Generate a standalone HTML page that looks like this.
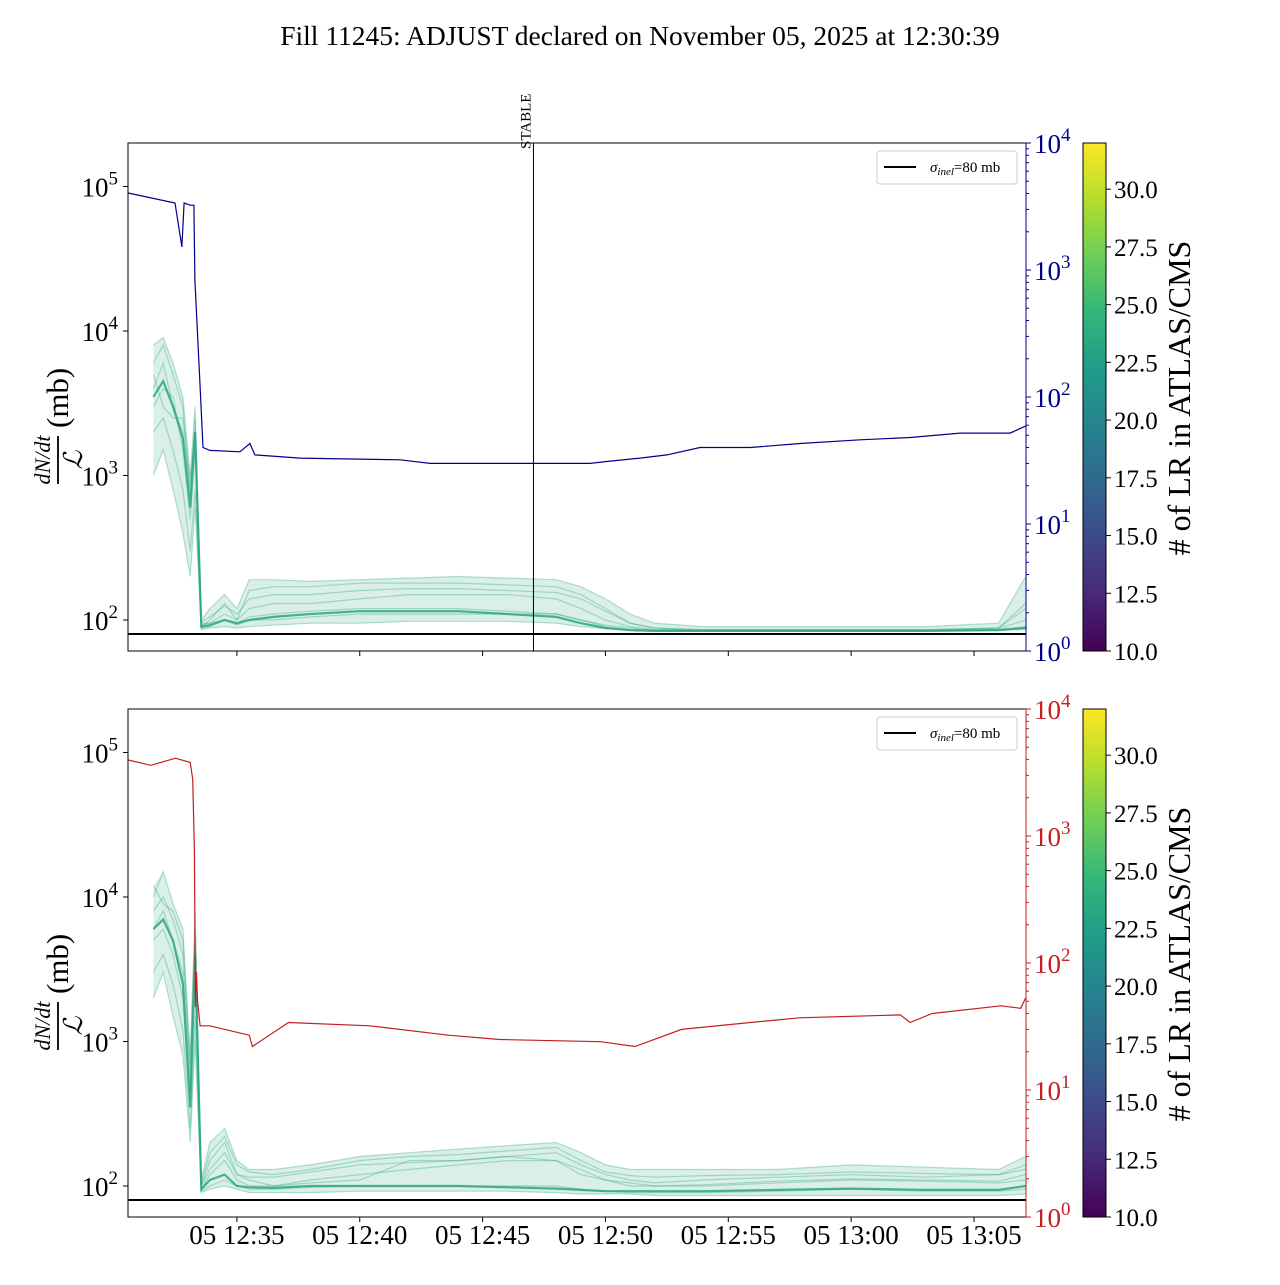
<!DOCTYPE html>
<html><head><meta charset="utf-8"><style>
body{margin:0;background:#fff}
svg text{font-family:"Liberation Serif","DejaVu Serif",serif}
</style></head><body>
<svg id="chart" width="1280" height="1280" xmlns="http://www.w3.org/2000/svg">
<defs><linearGradient id="vir" x1="0" y1="1" x2="0" y2="0">
<stop offset="0" stop-color="#440154"/><stop offset="0.11" stop-color="#482878"/><stop offset="0.22" stop-color="#3e4989"/><stop offset="0.33" stop-color="#31688e"/><stop offset="0.44" stop-color="#26828e"/><stop offset="0.56" stop-color="#1f9e89"/><stop offset="0.67" stop-color="#35b779"/><stop offset="0.78" stop-color="#6ece58"/><stop offset="0.89" stop-color="#b5de2b"/><stop offset="1" stop-color="#fde725"/></linearGradient></defs>
<text x="640" y="45" font-size="27.5" text-anchor="middle">Fill 11245: ADJUST declared on November 05, 2025 at 12:30:39</text>
<g id="g"></g>
</svg>
<script>
const xTickLabels=["05 12:35","05 12:40","05 12:45","05 12:50","05 12:55","05 13:00","05 13:05"];
const xTickTimes=[5,10,15,20,25,30,35];
const blueT=[0.57,2.48,2.76,2.85,3.1,3.25,3.29,3.49,3.62,3.9,5.12,5.53,5.73,7.57,11.64,12.86,17.09,19.37,20,21.41,22.5,23.85,25.89,27.92,30.37,32.4,34.44,36.47,37.1];
const blueV=[4040,3370,1520,3370,3240,3240,830,135,40,38,37,43,35,33,32,30,30,30,31,33,35,40,40,43,46,48,52,52,59];
const redT=[0.57,1.5,2.5,3.1,3.2,3.27,3.31,3.35,3.4,3.5,3.9,5.5,5.63,7.1,10.4,13.6,15.7,19.8,21.2,23.1,25.9,27.9,32,32.4,33.3,36.1,36.9,37.1];
const redV=[3970,3600,4100,3800,2800,780,45,85,50,32,32,27,22,34,32,27,25,24,22,30,34,37,39,34,40,46,44,53];
const gT=[1.6,2.0,2.4,2.8,3.1,3.3,3.55,3.9,4.5,5.0,5.5,6.5,8,10,12,14,16,18,19,20,21,22,24,27,30,33,36,37.1];
const topSeries=[
[6000,8000,5000,3000,700,2500,95,95,110,100,120,130,130,140,150,150,150,140,120,100,90,86,85,85,85,85,87,100],
[3000,4000,3500,1500,500,1500,90,100,130,100,160,170,170,180,180,180,175,170,150,120,95,88,86,86,86,86,88,130],
[2000,2500,1500,800,300,800,88,90,100,95,105,110,115,120,120,120,115,110,100,92,88,85,84,84,84,84,86,90],
[4000,6000,3000,2000,800,2000,92,95,100,92,100,100,105,110,110,110,110,110,100,90,86,85,84,84,84,84,85,88],
[1000,1500,800,400,200,600,86,88,90,88,90,92,95,95,98,98,98,95,90,87,85,84,84,84,84,84,85,86],
[5000,3000,2500,2500,900,2000,100,120,150,120,190,190,185,190,195,200,195,190,170,140,110,95,90,90,90,90,95,200],
[8000,9000,6000,3500,1000,3000,97,105,125,110,140,150,150,160,165,165,160,155,140,115,95,88,85,85,85,85,88,120]];
const topMain=[3500,4500,3000,1800,600,2000,90,92,100,95,100,105,110,115,115,115,110,105,95,88,85,84,84,84,84,84,85,88];
const botSeries=[
[8000,10000,7000,4000,600,5000,100,150,200,120,110,100,105,110,150,150,160,170,140,120,110,105,110,115,120,115,120,130],
[5000,6000,4000,2000,400,3000,95,120,150,110,100,100,110,120,130,140,150,150,130,110,100,100,100,105,110,108,105,110],
[3000,4000,2500,1200,250,1500,92,100,110,100,95,95,98,100,100,100,100,100,95,92,90,90,90,92,95,92,92,95],
[10000,15000,9000,6000,800,8000,110,200,250,150,130,130,140,160,170,180,190,200,170,140,130,130,130,130,140,135,130,160],
[2000,3000,1500,800,200,1000,90,95,100,95,90,90,90,92,92,92,92,90,88,88,88,86,86,86,86,86,86,88],
[6000,8000,5000,3000,500,4000,100,130,170,120,115,115,125,140,145,150,160,150,120,110,105,100,102,108,112,110,108,120],
[12000,9000,8000,5000,700,6000,105,170,220,140,125,120,130,150,160,165,175,185,150,125,118,115,118,120,125,122,120,140]];
const botMain=[6000,7000,5000,2500,350,4000,95,110,120,100,98,97,100,100,100,100,98,96,94,92,92,92,92,94,96,94,94,100];
const cbTicks=[10.0,12.5,15.0,17.5,20.0,22.5,25.0,27.5,30.0];

const NS="http://www.w3.org/2000/svg",G=document.getElementById('g');
function el(tag,attrs,parent,txt){const e=document.createElementNS(NS,tag);for(const k in attrs)e.setAttribute(k,attrs[k]);if(txt!==undefined)e.textContent=txt;(parent||G).appendChild(e);return e;}
const X0=128,X1=1026,T0=0.567,T1=37.117;
const xs=t=>X0+(t-T0)*(X1-X0)/(T1-T0);
function panel(top,pname,rightColor,rT,rV,series,mainS,showX,stable){
  const bot=top+508;
  const yL=v=>top+477-(Math.log10(v)-2)*144.5;
  const yR=v=>bot-Math.log10(v)*127;
  const g=el('g',{});
  
  
  const clipId='c'+top;
  const cp=el('clipPath',{id:clipId},g);el('rect',{x:X0,y:top,width:X1-X0,height:508},cp);
  const plot=el('g',{'clip-path':'url(#'+clipId+')'},g);
  // envelope band
  const maxs=gT.map((t,j)=>Math.max(...series.map(s=>s[j])));
  const mins=gT.map((t,j)=>Math.min(...series.map(s=>s[j])));
  const pts=gT.map((t,j)=>xs(t).toFixed(1)+','+yL(maxs[j]).toFixed(1)).concat(gT.map((t,j)=>xs(t).toFixed(1)+','+yL(mins[j]).toFixed(1)).reverse());
  const band=el('polygon',{points:pts.join(' '),fill:'#2ca682','fill-opacity':0.18},plot);
  
  
  series.forEach((s,i)=>{
    const p=el('polyline',{points:s.map((v,j)=>xs(gT[j]).toFixed(1)+','+yL(v).toFixed(1)).join(' '),fill:'none',stroke:'#2ca682','stroke-opacity':0.35,'stroke-width':1.2},plot);
    
    
  });
  const m=el('polyline',{points:mainS.map((v,j)=>xs(gT[j]).toFixed(1)+','+yL(v).toFixed(1)).join(' '),fill:'none',stroke:'#2ca682','stroke-opacity':0.85,'stroke-width':2.2},plot);
  
  
  const r=el('polyline',{points:rT.map((t,j)=>xs(t).toFixed(1)+','+yR(rV[j]).toFixed(1)).join(' '),fill:'none',stroke:rightColor,'stroke-width':1.2},plot);
  
  
  const h=el('line',{x1:X0,x2:X1,y1:yL(80),y2:yL(80),stroke:'#000','stroke-width':2},plot);
  
  
  if(stable){
    const sx=xs(17.07);
    const sl=el('line',{x1:sx,x2:sx,y1:top,y2:bot,stroke:'#000','stroke-width':1},g);
    
    
    const st=el('text',{transform:`translate(${sx-3},${top+6}) rotate(-90)`,'font-size':15},g,'STABLE');
    
    
  }
  el('rect',{x:X0,y:top,width:X1-X0,height:508,fill:'none',stroke:'#000','stroke-width':1},g);
  [2,3,4,5].forEach(k=>{const y=yL(Math.pow(10,k));
    el('line',{x1:X0-5,x2:X0,y1:y,y2:y,stroke:'#000'},g);
    const t=el('text',{x:X0-10,y:y+10,'font-size':27,'text-anchor':'end'},g,'10');
    el('tspan',{dy:-12,'font-size':19},t,String(k));
    
    });
  [0,1,2,3,4].forEach(k=>{const y=yR(Math.pow(10,k));
    el('line',{x1:X1,x2:X1+5,y1:y,y2:y,stroke:rightColor},g);
    const t=el('text',{x:X1+8,y:y+10,'font-size':27,fill:rightColor},g,'10');
    el('tspan',{dy:-12,'font-size':19},t,String(k));
    
    
    for(let m2=2;m2<10&&k<4;m2++){const ym=yR(m2*Math.pow(10,k));el('line',{x1:X1,x2:X1+3,y1:ym,y2:ym,stroke:rightColor},g);}});
  el('line',{x1:X1,x2:X1,y1:top,y2:bot,stroke:rightColor},g);
  xTickTimes.forEach((t,i)=>{const x=xs(t);el('line',{x1:x,x2:x,y1:bot,y2:bot+5,stroke:'#000'},g);
    if(showX){const tl=el('text',{x:x,y:bot+27,'font-size':27,'text-anchor':'middle'},g,xTickLabels[i]);
      
      }});
  const yl=el('g',{transform:`translate(58,${top+265}) rotate(-90)`},g);
  
  
  el('text',{x:-52,y:-8,'font-size':22,'font-style':'italic','text-anchor':'middle'},yl,'dN/dt');
  el('line',{x1:-76,x2:-28,y1:0,y2:0,stroke:'#000','stroke-width':1.8},yl);
  el('text',{x:-52,y:24,'font-size':26,'font-style':'italic','text-anchor':'middle'},yl,'ℒ');
  el('text',{x:-20,y:10,'font-size':31},yl,'(mb)');
  const lg=el('g',{},g);
  
  
  el('rect',{x:877,y:top+8,width:140,height:33,rx:3,fill:'#fff',stroke:'#ccc'},lg);
  el('line',{x1:884,x2:916,y1:top+24,y2:top+24,stroke:'#000','stroke-width':2},lg);
  const lt=el('text',{x:930,y:top+29,'font-size':15},lg);
  el('tspan',{'font-style':'italic'},lt,'σ');
  el('tspan',{'font-size':11,'font-style':'italic',dy:3},lt,'inel');
  el('tspan',{dy:-3},lt,'=80 mb');
  const cb=el('g',{},g);
  
  
  el('rect',{x:1083,y:top,width:23,height:508,fill:'url(#vir)',stroke:'#000'},cb);
  const cy=v=>bot-(v-10)/22*508;
  cbTicks.forEach(v=>{const y=cy(v);el('line',{x1:1106,x2:1111,y1:y,y2:y,stroke:'#000'},cb);
    const ct=el('text',{x:1114,y:y+9,'font-size':25},cb,v.toFixed(1));
    
    });
  const ctl=el('text',{transform:`translate(1190,${top+255}) rotate(-90)`,'font-size':32,'text-anchor':'middle'},cb,'# of LR in ATLAS/CMS');
  
  
}
panel(143,'top','#00008b',blueT,blueV,topSeries,topMain,false,true);
panel(709,'bottom','#c41e1e',redT,redV,botSeries,botMain,true,false);
</script>
</body></html>
